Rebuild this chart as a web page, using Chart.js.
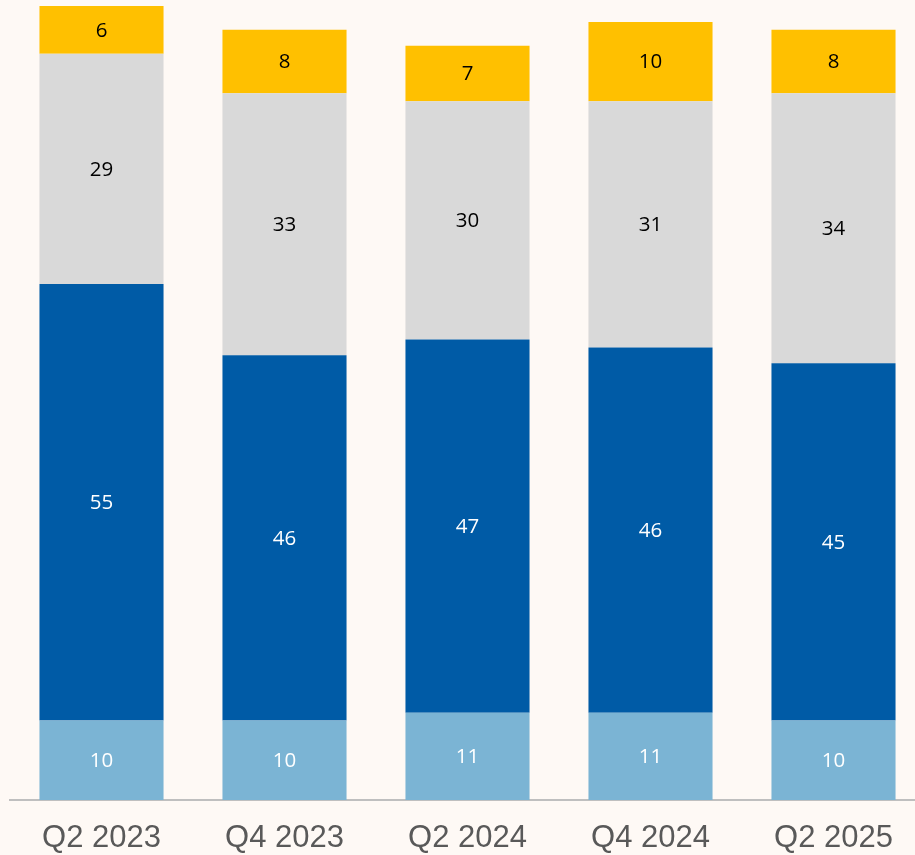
<!DOCTYPE html>
<html>
<head>
<meta charset="utf-8">
<script src="https://cdn.jsdelivr.net/npm/chart.js@4/dist/chart.umd.min.js"></script>
<style>
  html, body { margin: 0; padding: 0; background: #FEF9F5; overflow: hidden; }
  #wrap { width: 925px; height: 855px; position: relative; }
</style>
</head>
<body>
<div id="wrap"><canvas id="c" width="925" height="855"></canvas></div>
<script>
const categories = ["Q2 2023", "Q4 2023", "Q2 2024", "Q4 2024", "Q2 2025"];
const seriesLightBlue = [10, 10, 11, 11, 10];
const seriesDarkBlue  = [55, 46, 47, 46, 45];
const seriesGray      = [29, 33, 30, 31, 34];
const seriesYellow    = [6, 8, 7, 10, 8];

const labelPlugin = {
  id: 'segLabels',
  afterDatasetsDraw(chart) {
    const ctx = chart.ctx;
    ctx.save();
    ctx.textAlign = 'center';
    ctx.textBaseline = 'middle';
    ctx.font = '20.5px "Open Sans", sans-serif';
    chart.data.datasets.forEach((ds, di) => {
      const meta = chart.getDatasetMeta(di);
      meta.data.forEach((bar, i) => {
        const y = (bar.y + bar.base) / 2 + 1;
        ctx.fillStyle = ds.labelColor;
        ctx.fillText(String(ds.data[i]), bar.x, y);
      });
    });
    ctx.restore();
  }
};

new Chart(document.getElementById('c'), {
  type: 'bar',
  data: {
    labels: categories,
    datasets: [
      { data: seriesLightBlue, backgroundColor: '#7BB4D4', labelColor: '#FFFFFF' },
      { data: seriesDarkBlue,  backgroundColor: '#005BA6', labelColor: '#FFFFFF' },
      { data: seriesGray,      backgroundColor: '#D9D9D9', labelColor: '#000000' },
      { data: seriesYellow,    backgroundColor: '#FFC000', labelColor: '#000000' }
    ]
  },
  options: {
    responsive: false,
    animation: false,
    events: [],
    layout: { padding: { left: 10, right: 0, top: 6, bottom: 0 } },
    datasets: { bar: { barPercentage: 1, categoryPercentage: 0.678, borderWidth: 0 } },
    plugins: { legend: { display: false }, tooltip: { enabled: false } },
    scales: {
      x: {
        stacked: true,
        grid: { display: false, drawTicks: false },
        border: { display: true, color: '#BFBFBF', width: 2 },
        ticks: { color: '#595959', font: { family: '"Liberation Sans", Arial, sans-serif', size: 31 }, padding: 20, maxRotation: 0 },
        afterFit(scale) { scale.height = 55; }
      },
      y: {
        stacked: true,
        display: false,
        min: 0,
        max: 100
      }
    }
  },
  plugins: [labelPlugin]
});
</script>
</body>
</html>
